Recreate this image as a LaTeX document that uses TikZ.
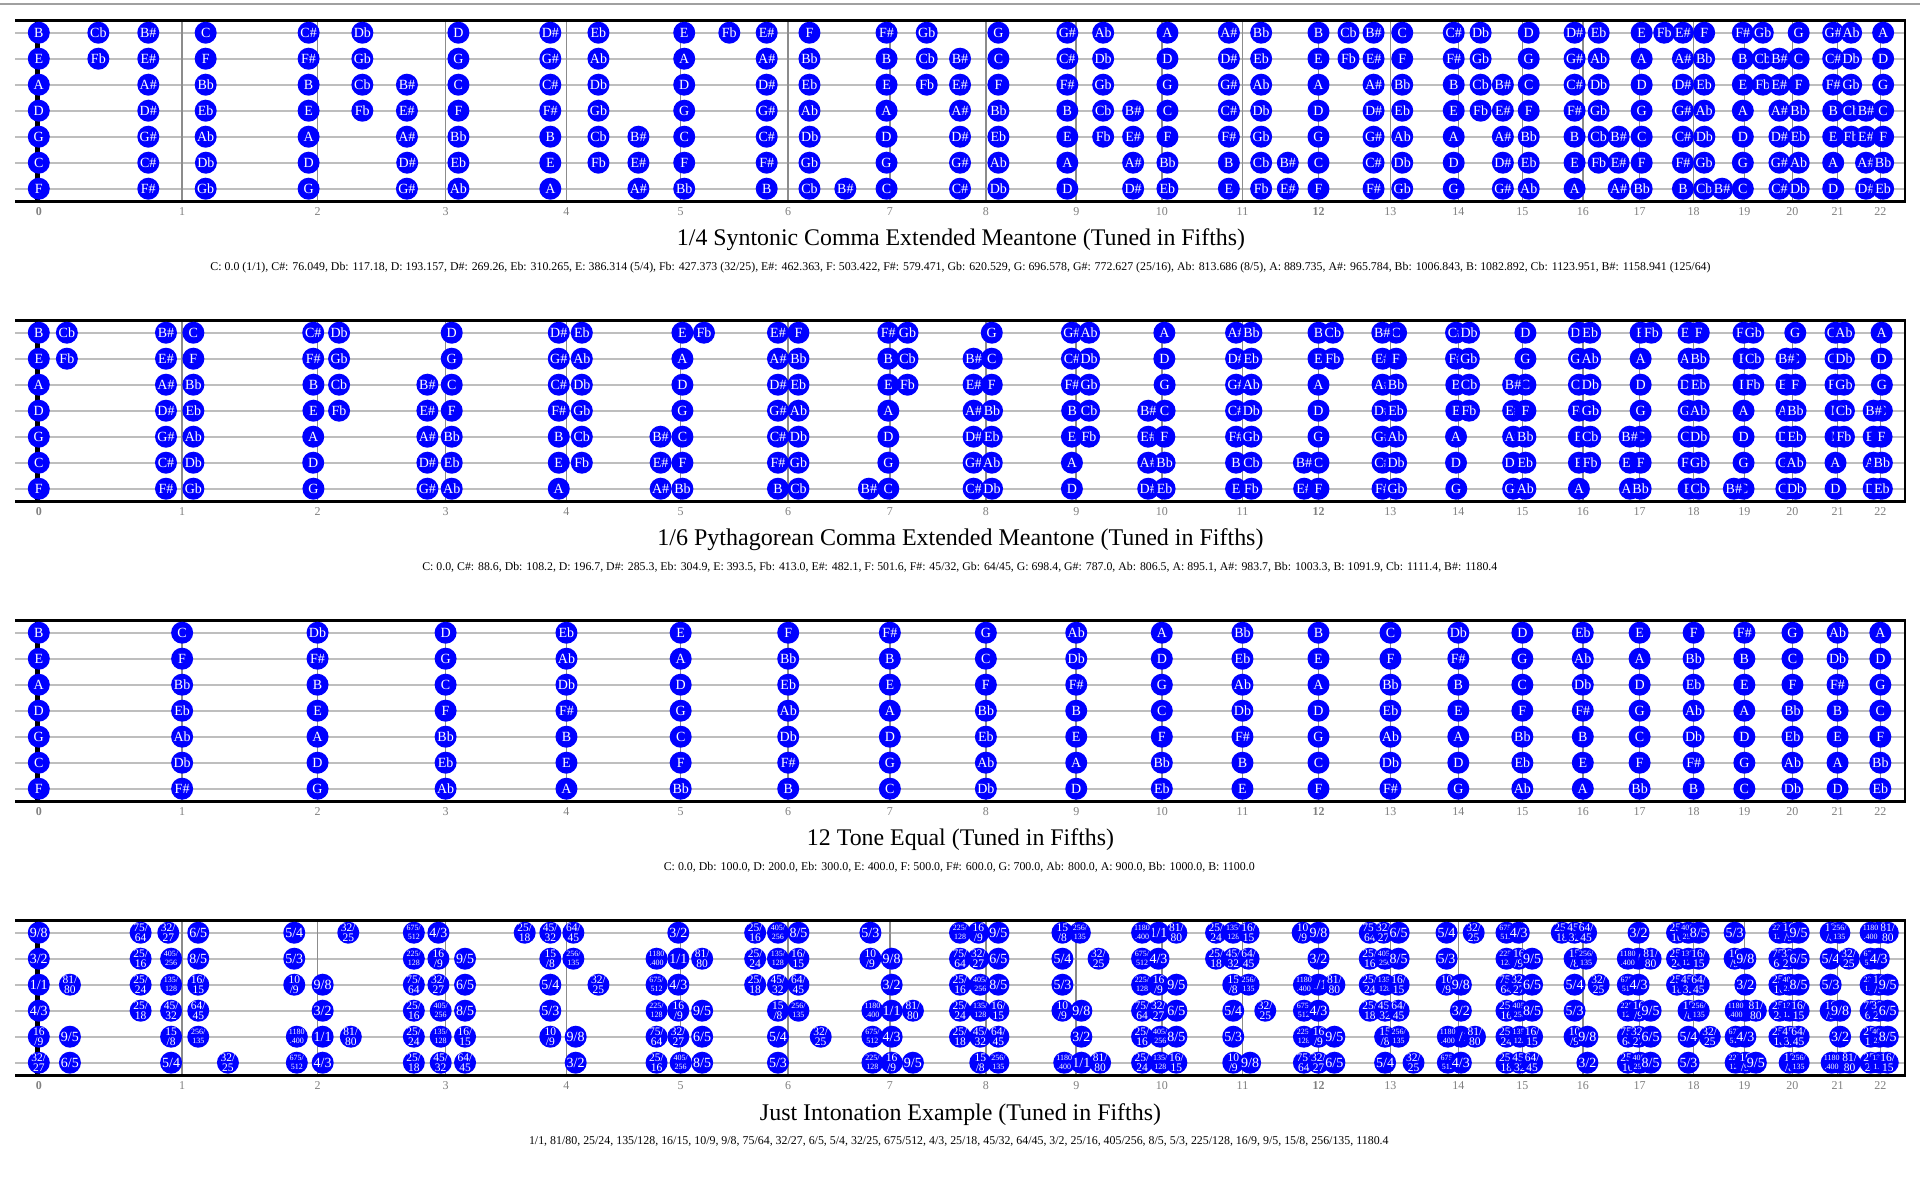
\documentclass[tikz,border=0pt]{standalone}
\usepackage{fontspec}
\setmainfont{Liberation Serif}
\usepackage{graphicx}
\definecolor{noteblue}{RGB}{0,0,255}
\definecolor{strcol}{RGB}{190,190,190}
\definecolor{fretcol}{RGB}{140,140,140}
\definecolor{numcol}{RGB}{128,128,128}
\definecolor{topcol}{RGB}{160,160,160}

\tikzset{
  notelabel/.style={text=white, inner sep=0pt, font=\fontsize{14}{14}\selectfont},
  stringline/.style={strcol, line width=1.6pt},
  fretline/.style={fretcol, line width=1.6pt},
  nutline/.style={black, line width=5pt},
  border/.style={black, line width=3pt},
  fretnum/.style={text=numcol, inner sep=0pt, font=\fontsize{12}{12}\selectfont},
  titletext/.style={inner sep=0pt, text=black},
  infotext/.style={inner sep=0pt, text=black},
}

\newcount\nodeno
\def\ycur{0}
\def\opencents{0}
\def\putnote#1#2{%
  \ifdim#1pt<2250pt
    \pgfmathsetmacro\xx{38.8+2560*(1-exp(-0.693147*#1/1200))}%
    \global\advance\nodeno by 1
    \fill[noteblue] (\xx,\ycur) circle[radius=11pt];
    \node[notelabel, name=n\the\nodeno] at (\xx,\ycur) {#2};
  \fi}
\def\N#1#2{%
  \pgfmathsetmacro\dd{mod(#1-\opencents+1200,1200)}%
  \putnote{\dd}{#2}%
  \pgfmathsetmacro\dd{\dd+1200}%
  \putnote{\dd}{#2}}
\newcommand\strrow[3]{\def\opencents{#1}\def\ycur{#2}#3}

\def\tl#1#2{\fontsize{11.5}{9.5}\selectfont\vbox{\halign{\hfil##\hfil\cr#1\cr#2\cr}}}
\def\ts#1#2{\fontsize{8}{9}\selectfont\vbox{\halign{\hfil##\hfil\cr#1\cr#2\cr}}}

\newcommand\board[2]{%
  \pgfmathsetmacro\btop{#1+20}%
  \pgfmathsetmacro\bbot{#1+32.7+26*(#2-1)+13}%
  \pgfmathsetmacro\fy{\bbot+10}%
  \foreach \i in {1,...,#2} {\draw[stringline] (15,{#1+32.7+26*(\i-1)}) -- (1905,{#1+32.7+26*(\i-1)});}
  \foreach \f in {1,...,22} {\pgfmathsetmacro\fx{38.8+2560*(1-exp(-0.693147*\f/12))}\draw[fretline] (\fx,\btop) -- (\fx,\bbot);}
  \draw[nutline] (37.3,\btop) -- (37.3,\bbot);
  \draw[border] (15,\btop) -- (1906.25,\btop);
  \draw[border] (15,\bbot) -- (1906.25,\bbot);
  \draw[black, line width=2.5pt] (1905,\btop) -- (1905,\bbot);
  \foreach \f in {0,...,22} {\pgfmathsetmacro\fx{38.8+2560*(1-exp(-0.693147*\f/12))}\node[fretnum, name=fn#1x\f] at (\fx,\fy) {\ifnum\f=0 \bfseries\fi\ifnum\f=12 \bfseries\fi\f};}
}

\def\listA{\N{0}{C}\N{76.049}{C\#}\N{117.18}{Db}\N{193.157}{D}\N{269.26}{D\#}\N{310.265}{Eb}\N{386.314}{E}\N{427.373}{Fb}\N{462.363}{E\#}\N{503.422}{F}\N{579.471}{F\#}\N{620.529}{Gb}\N{696.578}{G}\N{772.627}{G\#}\N{813.686}{Ab}\N{889.735}{A}\N{965.784}{A\#}\N{1006.843}{Bb}\N{1082.892}{B}\N{1123.951}{Cb}\N{1158.941}{B\#}}
\def\listB{\N{0}{C}\N{88.6}{C\#}\N{108.2}{Db}\N{196.7}{D}\N{285.3}{D\#}\N{304.9}{Eb}\N{393.5}{E}\N{413.0}{Fb}\N{482.1}{E\#}\N{501.6}{F}\N{590.224}{F\#}\N{609.776}{Gb}\N{698.4}{G}\N{787.0}{G\#}\N{806.5}{Ab}\N{895.1}{A}\N{983.7}{A\#}\N{1003.3}{Bb}\N{1091.9}{B}\N{1111.4}{Cb}\N{1180.4}{B\#}}
\def\listC{\N{0}{C}\N{100}{Db}\N{200}{D}\N{300}{Eb}\N{400}{E}\N{500}{F}\N{600}{F\#}\N{700}{G}\N{800}{Ab}\N{900}{A}\N{1000}{Bb}\N{1100}{B}}
\def\listD{%
\N{0}{1/1}%
\N{21.506}{\tl{81/}{80}}%
\N{70.672}{\tl{25/}{24}}%
\N{92.179}{\ts{135/}{128}}%
\N{111.731}{\tl{16/}{15}}%
\N{182.404}{\tl{10}{/9}}%
\N{203.910}{9/8}%
\N{274.582}{\tl{75/}{64}}%
\N{294.135}{\tl{32/}{27}}%
\N{315.641}{6/5}%
\N{386.314}{5/4}%
\N{427.373}{\tl{32/}{25}}%
\N{478.492}{\ts{675/}{512}}%
\N{498.045}{4/3}%
\N{568.717}{\tl{25/}{18}}%
\N{590.224}{\tl{45/}{32}}%
\N{609.776}{\tl{64/}{45}}%
\N{701.955}{3/2}%
\N{772.627}{\tl{25/}{16}}%
\N{794.134}{\ts{405/}{256}}%
\N{813.686}{8/5}%
\N{884.359}{5/3}%
\N{976.537}{\ts{225/}{128}}%
\N{996.090}{\tl{16}{/9}}%
\N{1017.596}{9/5}%
\N{1088.269}{\tl{15}{/8}}%
\N{1107.821}{\ts{256/}{135}}%
\N{1180.4}{\ts{1180}{.400}}%
}

\begin{document}
\begin{tikzpicture}[x=1pt,y=-1pt]
\fill[white] (0,0) rectangle (1920,1200);
\useasboundingbox (0,0) rectangle (1920,1200);
\draw[topcol, line width=1.5pt] (0,4) -- (1920,4);

% ---------- Diagram 1 ----------
\board{0}{7}
\strrow{1082.892}{32.7}{\listA}
\strrow{386.314}{58.7}{\listA}
\strrow{889.735}{84.7}{\listA}
\strrow{193.157}{110.7}{\listA}
\strrow{696.578}{136.7}{\listA}
\strrow{0}{162.7}{\listA}
\strrow{503.422}{188.7}{\listA}
\node[titletext, name=title1] at (961,240) {\resizebox{568pt}{!}{\fontsize{22}{24}\selectfont 1/4 Syntonic Comma Extended Meantone (Tuned in Fifths)}};
\node[infotext, name=info1] at (960.5,267.7) {\resizebox{1500pt}{!}{\fontsize{11}{12}\selectfont C: 0.0 (1/1), C\#: 76.049, Db: 117.18, D: 193.157, D\#: 269.26, Eb: 310.265, E: 386.314 (5/4), Fb: 427.373 (32/25), E\#: 462.363, F: 503.422, F\#: 579.471, Gb: 620.529, G: 696.578, G\#: 772.627 (25/16), Ab: 813.686 (8/5), A: 889.735, A\#: 965.784, Bb: 1006.843, B: 1082.892, Cb: 1123.951, B\#: 1158.941 (125/64)}};

% ---------- Diagram 2 ----------
\board{300}{7}
\strrow{1091.9}{332.7}{\listB}
\strrow{393.5}{358.7}{\listB}
\strrow{895.1}{384.7}{\listB}
\strrow{196.7}{410.7}{\listB}
\strrow{698.4}{436.7}{\listB}
\strrow{0}{462.7}{\listB}
\strrow{501.6}{488.7}{\listB}
\node[titletext, name=title2] at (960.5,540) {\resizebox{606pt}{!}{\fontsize{22}{24}\selectfont 1/6 Pythagorean Comma Extended Meantone (Tuned in Fifths)}};
\node[infotext, name=info2] at (959.8,567.7) {\resizebox{1075pt}{!}{\fontsize{11}{12}\selectfont C: 0.0, C\#: 88.6, Db: 108.2, D: 196.7, D\#: 285.3, Eb: 304.9, E: 393.5, Fb: 413.0, E\#: 482.1, F: 501.6, F\#: 45/32, Gb: 64/45, G: 698.4, G\#: 787.0, Ab: 806.5, A: 895.1, A\#: 983.7, Bb: 1003.3, B: 1091.9, Cb: 1111.4, B\#: 1180.4}};

% ---------- Diagram 3 ----------
\board{600}{7}
\strrow{1100}{632.7}{\listC}
\strrow{400}{658.7}{\listC}
\strrow{900}{684.7}{\listC}
\strrow{200}{710.7}{\listC}
\strrow{700}{736.7}{\listC}
\strrow{0}{762.7}{\listC}
\strrow{500}{788.7}{\listC}
\node[titletext, name=title3] at (960.5,840) {\resizebox{307pt}{!}{\fontsize{22}{24}\selectfont 12 Tone Equal (Tuned in Fifths)}};
\node[infotext, name=info3] at (959.3,867.5) {\resizebox{591pt}{!}{\fontsize{11}{12}\selectfont C: 0.0, Db: 100.0, D: 200.0, Eb: 300.0, E: 400.0, F: 500.0, F\#: 600.0, G: 700.0, Ab: 800.0, A: 900.0, Bb: 1000.0, B: 1100.0}};

% ---------- Diagram 4 ----------
\board{900}{6}
\strrow{203.910}{932.7}{\listD}
\strrow{701.955}{958.7}{\listD}
\strrow{0}{984.7}{\listD}
\strrow{498.045}{1010.7}{\listD}
\strrow{996.090}{1036.7}{\listD}
\strrow{294.135}{1062.7}{\listD}
\node[titletext, name=title4] at (960.5,1114.2) {\resizebox{401pt}{!}{\fontsize{22}{24}\selectfont Just Intonation Example (Tuned in Fifths)}};
\node[infotext, name=info4] at (958.8,1141.2) {\resizebox{859.5pt}{!}{\fontsize{11}{12}\selectfont 1/1, 81/80, 25/24, 135/128, 16/15, 10/9, 9/8, 75/64, 32/27, 6/5, 5/4, 32/25, 675/512, 4/3, 25/18, 45/32, 64/45, 3/2, 25/16, 405/256, 8/5, 5/3, 225/128, 16/9, 9/5, 15/8, 256/135, 1180.4}};
\end{tikzpicture}
\end{document}
